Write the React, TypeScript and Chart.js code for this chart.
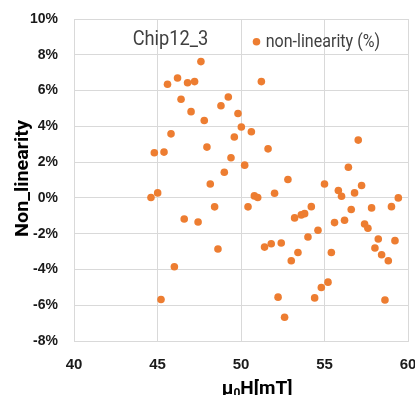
import React, { useEffect, useRef } from "react";
import { Chart, registerables } from "chart.js";

Chart.register(...registerables);

// magnetic field (mT)
const fieldMT: number[] = [
  47.6, 45.6, 46.2, 46.8, 47.22, 46.41, 47.01, 47.8, 45.81, 47.96,
  44.81, 45.39, 48.16, 45.01, 44.61, 46.6, 47.43, 46.01, 45.21, 51.22,
  49.24, 48.8, 49.82, 50.02, 50.62, 49.6, 57.02, 51.62, 49.4, 50.22,
  56.43, 49.0, 52.81, 55.0, 57.22, 55.83, 56.8, 52.01, 50.8, 51.0,
  56.02, 59.42, 48.42, 50.42, 54.21, 53.21, 53.61, 53.81, 56.6, 57.82,
  59.01, 55.6, 56.2, 57.4, 57.6, 54.61, 54.01, 58.22, 59.22, 51.41,
  51.81, 52.41, 48.62, 53.41, 53.01, 55.41, 58.02, 58.42, 58.82, 55.21,
  54.81, 54.41, 52.22, 58.62, 52.61,
];
// non-linearity (%)
const nonLinearity: number[] = [
  7.62, 6.35, 6.7, 6.44, 6.5, 5.51, 4.82, 4.33, 3.58, 2.84,
  2.52, 2.56, 0.78, 0.28, 0.02, -1.18, -1.35, -3.85, -5.68, 6.5,
  5.64, 5.15, 4.72, 3.96, 3.7, 3.4, 3.23, 2.74, 2.24, 1.83,
  1.71, 1.43, 1.03, 0.78, 0.69, 0.41, 0.28, 0.26, 0.11, 0.02,
  0.09, 0.0, -0.5, -0.5, -0.49, -1.12, -0.95, -0.88, -0.65, -0.56,
  -0.49, -1.38, -1.25, -1.46, -1.7, -1.81, -2.19, -2.3, -2.39, -2.75,
  -2.56, -2.52, -2.86, -3.05, -3.51, -3.05, -2.8, -3.18, -3.51, -4.71,
  -5.01, -5.59, -5.55, -5.71, -6.67,
];

const chartTitle = "Chip12_3";
const seriesName = "non-linearity (%)";
const yAxisTitle = "Non_linearity";
const xMin = 40, xMax = 60, xStep = 5;
const yMin = -8, yMax = 10, yStep = 2;

const ORANGE = "#ED7D31";
const GRID = "#D9D9D9";

function drawScaled(ctx: CanvasRenderingContext2D, text: string, x: number, y: number, width: number) {
  const w = ctx.measureText(text).width;
  const sx = w > 0 ? width / w : 1;
  ctx.save();
  ctx.translate(x, y);
  ctx.scale(sx, 1);
  ctx.fillText(text, 0, 0);
  ctx.restore();
}

const overlayPlugin = {
  id: "overlay",
  afterDraw(chart: any) {
    const ctx: CanvasRenderingContext2D = chart.ctx;
    ctx.save();
    ctx.textAlign = "left";
    ctx.textBaseline = "alphabetic";
    // title inside plot
    ctx.fillStyle = "#404040";
    ctx.font = "400 20px Roboto";
    drawScaled(ctx, chartTitle, 132.7, 45, 75.6);
    // legend
    ctx.fillStyle = ORANGE;
    ctx.beginPath();
    ctx.arc(256.5, 41.7, 3.8, 0, Math.PI * 2);
    ctx.fill();
    ctx.fillStyle = "#404040";
    ctx.font = "400 19px Roboto";
    drawScaled(ctx, seriesName, 265.7, 47.3, 114.3);
    // y axis title
    ctx.fillStyle = "#000";
    ctx.font = "700 19px Roboto";
    ctx.save();
    ctx.translate(28, 178.5 + 58.5);
    ctx.rotate(-Math.PI / 2);
    drawScaled(ctx, yAxisTitle, 0, 0, 117);
    ctx.restore();
    // x axis title: μ0H[mT] with subscript 0
    ctx.font = "700 19px Roboto";
    let x = 221.7;
    const base = 393.5;
    ctx.fillText("μ", x, base);
    x += ctx.measureText("μ").width;
    ctx.font = "700 12px Roboto";
    ctx.fillText("0", x, base + 3.5);
    x += ctx.measureText("0").width;
    ctx.font = "700 19px Roboto";
    ctx.fillText("H[mT]", x, base);
    ctx.restore();
  },
};

export default function App() {
  const ref = useRef<HTMLCanvasElement | null>(null);
  useEffect(() => {
    if (!ref.current) return;
    const points = fieldMT.map((v, i) => ({ x: v, y: nonLinearity[i] }));
    const chart = new Chart(ref.current, {
      type: "scatter",
      data: {
        datasets: [
          {
            label: seriesName,
            data: points,
            backgroundColor: ORANGE,
            borderWidth: 0,
            pointRadius: 3.8,
            pointHoverRadius: 3.8,
          },
        ],
      },
      plugins: [overlayPlugin],
      options: {
        animation: false,
        responsive: false,
        devicePixelRatio: 1,
        events: [],
        layout: { padding: { top: 19, right: 7, left: 0, bottom: 0 } },
        plugins: { legend: { display: false }, tooltip: { enabled: false } },
        scales: {
          x: {
            type: "linear",
            min: xMin,
            max: xMax,
            afterFit: (s: any) => {
              s.height = 54;
              s.paddingLeft = 0;
              s.paddingRight = 0;
            },
            ticks: {
              stepSize: xStep,
              padding: 15,
              color: "#1a1a1a",
              font: { family: "Liberation Sans", size: 15, weight: "bold" },
            },
            grid: { color: GRID, drawTicks: false, lineWidth: 1 },
            border: { color: GRID },
          },
          y: {
            type: "linear",
            min: yMin,
            max: yMax,
            afterFit: (s: any) => {
              s.width = 74;
              s.paddingTop = 0;
              s.paddingBottom = 0;
            },
            ticks: {
              stepSize: yStep,
              padding: 16,
              color: "#1a1a1a",
              font: { family: "Liberation Sans", size: 14, weight: "bold" },
              callback: (v: any) => `${v}%`,
            },
            grid: { color: GRID, drawTicks: false, lineWidth: 1 },
            border: { color: GRID },
          },
        },
      },
    });
    return () => chart.destroy();
  }, []);
  return (
    <div style={{ position: "absolute", left: 0, top: 0, width: 415, height: 395, background: "#fff" }}>
      <canvas ref={ref} width={415} height={395} />
    </div>
  );
}
